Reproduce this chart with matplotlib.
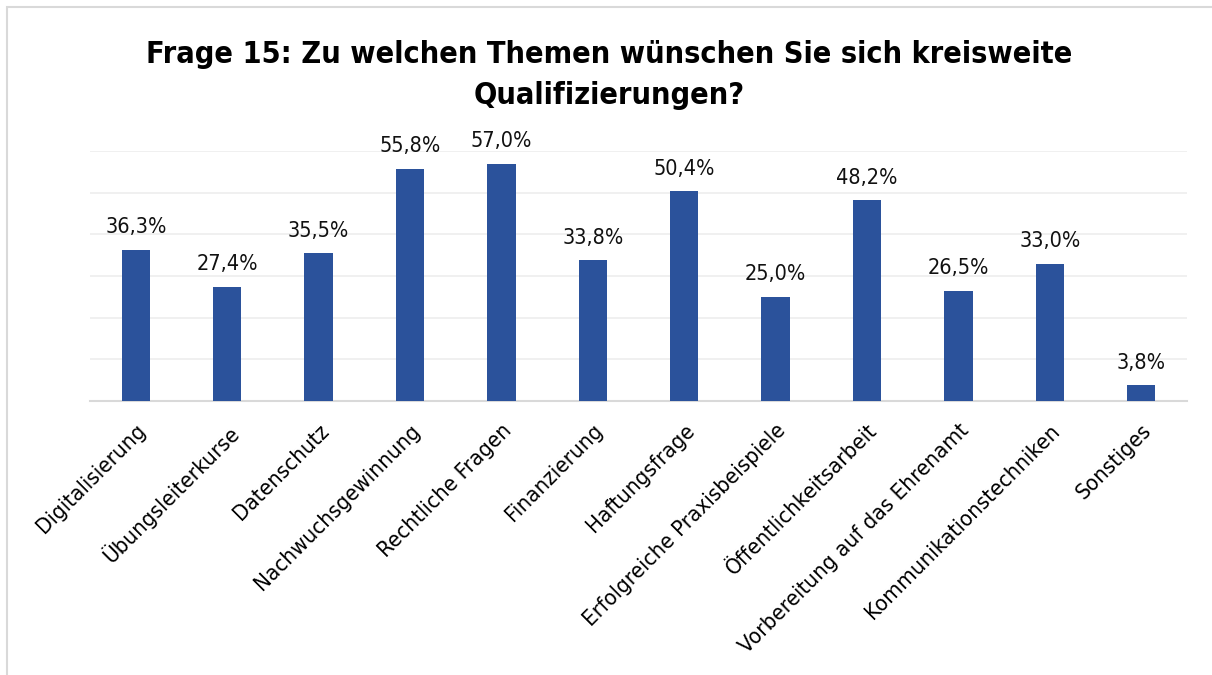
import numpy as np, matplotlib.pyplot as plt
from matplotlib.patches import Rectangle

themen = ["Digitalisierung", "Übungsleiterkurse", "Datenschutz", "Nachwuchsgewinnung",
          "Rechtliche Fragen", "Finanzierung", "Haftungsfrage", "Erfolgreiche Praxisbeispiele",
          "Öffentlichkeitsarbeit", "Vorbereitung auf das Ehrenamt", "Kommunikationstechniken",
          "Sonstiges"]
anteil = [36.3, 27.4, 35.5, 55.8, 57.0, 33.8, 50.4, 25.0, 48.2, 26.5, 33.0, 3.8]

plt.rcParams['font.family'] = ['DejaVu Sans']
plt.rcParams['font.stretch'] = 'condensed'

fig = plt.figure(figsize=(12.12, 6.75), dpi=100)
ax = fig.add_axes([0.0743, 0.406, 0.905, 0.370])

# outer frame of the chart area
fig.patches.append(Rectangle((7/1212, -0.1), 1.2, 1 - 7/675 + 0.1, transform=fig.transFigure,
                             fill=False, edgecolor='#d9d9d9', linewidth=1.5))

x = np.arange(len(themen))
ax.bar(x, anteil, width=0.31, color='#2B529B', zorder=3)
for xi, v in zip(x, anteil):
    ax.text(xi, v + 3.0, f"{v:.1f}%".replace('.', ','), ha='center', va='bottom',
            fontsize=15.5, color='#111111', fontstretch='condensed')

ax.set_xlim(-0.5, len(themen) - 0.5)
ax.set_ylim(0, 60)
ax.set_yticks(np.arange(0, 61, 10))
ax.set_yticklabels([])
ax.tick_params(axis='y', length=0)
ax.grid(axis='y', color='#eeeeee', linewidth=1.2, zorder=0)
for s in ['top', 'right', 'left']:
    ax.spines[s].set_visible(False)
ax.spines['bottom'].set_color('#d9d9d9')
ax.spines['bottom'].set_linewidth(1.5)

ax.set_xticks(x)
ax.set_xticklabels(themen, rotation=45, ha='right', rotation_mode='anchor', fontsize=16,
                   fontstretch='condensed')
ax.tick_params(axis='x', length=0, pad=14)

fig.text(0.503, 0.889, "Frage 15: Zu welchen Themen wünschen Sie sich kreisweite\nQualifizierungen?",
         ha='center', va='center', fontsize=22, fontweight='bold', fontstretch='condensed',
         linespacing=1.55)

fig.savefig('out.png', dpi=100)
